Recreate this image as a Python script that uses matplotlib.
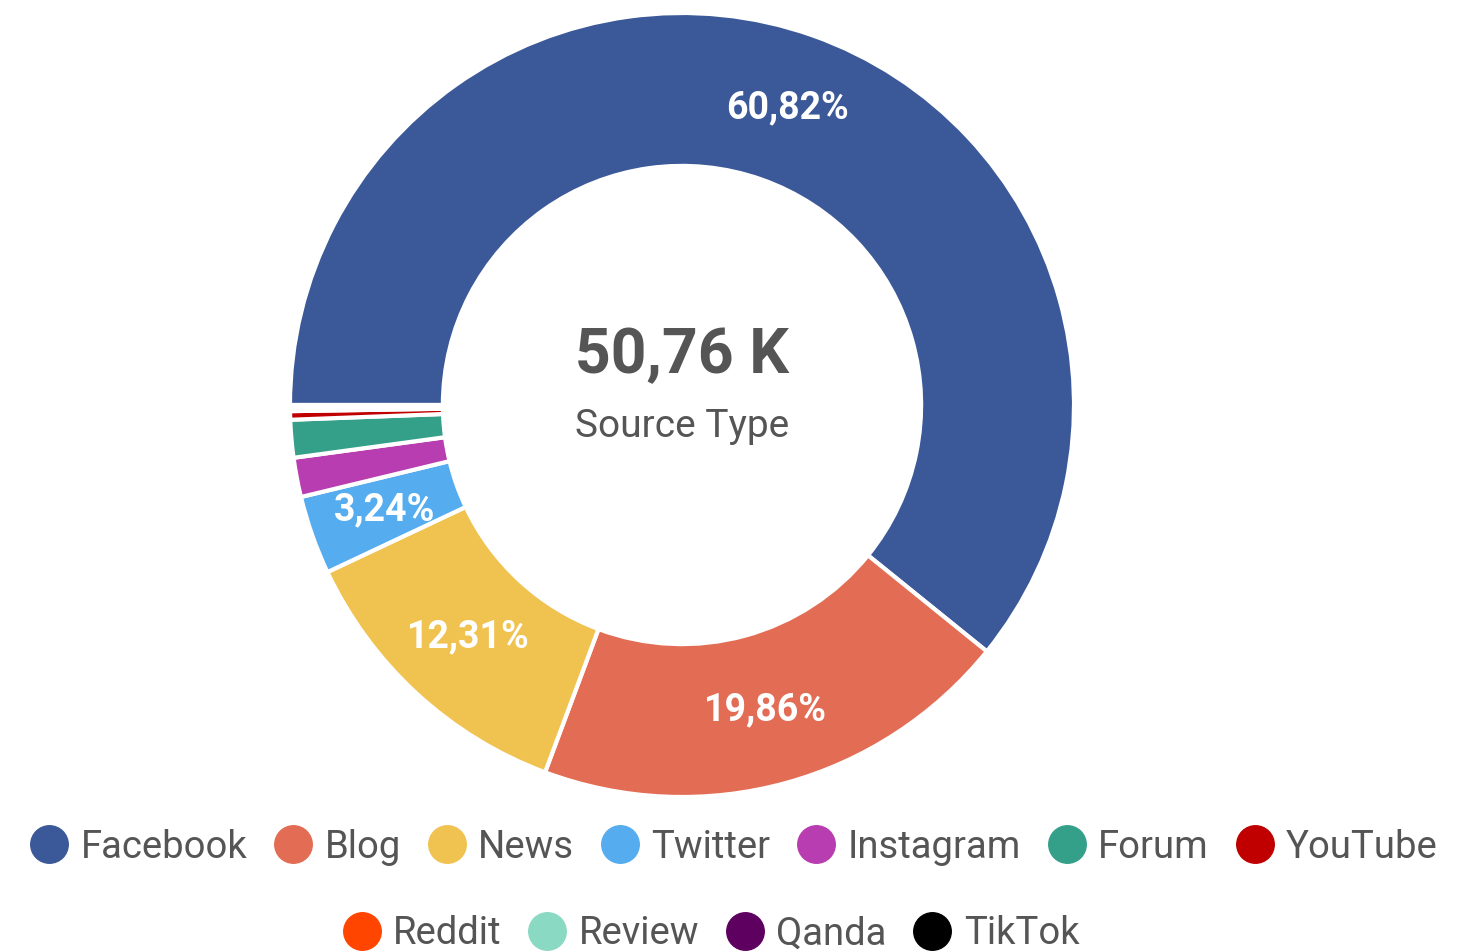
import matplotlib
matplotlib.use("Agg")
import matplotlib.pyplot as plt
from matplotlib.lines import Line2D

# share of mentions per source type (%)
sources = ['Facebook', 'Blog', 'News', 'Twitter', 'Instagram', 'Forum',
           'YouTube', 'Reddit', 'Review', 'Qanda', 'TikTok']
shares = [60.82, 19.86, 12.31, 3.24, 1.62, 1.55, 0.35, 0.15, 0.06, 0.03, 0.01]
colors = ['#3B5998', '#E36D54', '#F0C24F', '#55ACEE', '#B83DB0', '#35A08A',
          '#C00000', '#FF4500', '#8AD9C2', '#5E0060', '#000000']
total_label = '50,76 K'
center_title = 'Source Type'

plt.rcParams['font.family'] = ['Roboto', 'DejaVu Sans']

fig = plt.figure(figsize=(14.76, 9.51), dpi=100)
ax = fig.add_axes([290 / 1476, 154 / 951, 784 / 1476, 784 / 951])


def pct_label(p):
    if p < 3:
        return ''
    return f'{p:.2f}'.replace('.', ',') + '%'


wedges, texts, autotexts = ax.pie(
    shares, colors=colors, startangle=180, counterclock=False,
    radius=1.0, autopct=pct_label, pctdistance=0.805,
    wedgeprops=dict(width=0.39, edgecolor='white', linewidth=3),
)
for t in autotexts:
    t.set_color('white')
    t.set_fontsize(27)
    t.set_fontweight('bold')

ax.set_xlim(-1, 1)
ax.set_ylim(-1, 1)
ax.set_aspect('equal')
ax.axis('off')

ax.text(0, 0.125, total_label, ha='center', va='center', fontsize=45,
        fontweight='bold', color='#555555')
ax.text(0, -0.055, center_title, ha='center', va='center', fontsize=28,
        color='#555555')

handles = [Line2D([], [], marker='o', linestyle='', markersize=27,
                  markerfacecolor=c, markeredgecolor=c) for c in colors]

leg_kw = dict(frameon=False, fontsize=27.5, labelcolor='#555555',
              handletextpad=0.32, columnspacing=0.7, handlelength=1.0,
              borderaxespad=0, loc='center')
fig.legend(handles[:7], sources[:7], ncol=7,
           bbox_to_anchor=(734 / 1476, 1 - 847 / 951), **leg_kw)
fig.legend(handles[7:], sources[7:], ncol=4,
           bbox_to_anchor=(711 / 1476, 1 - 934 / 951), **leg_kw)

fig.savefig('out.png', dpi=100, facecolor='white')
